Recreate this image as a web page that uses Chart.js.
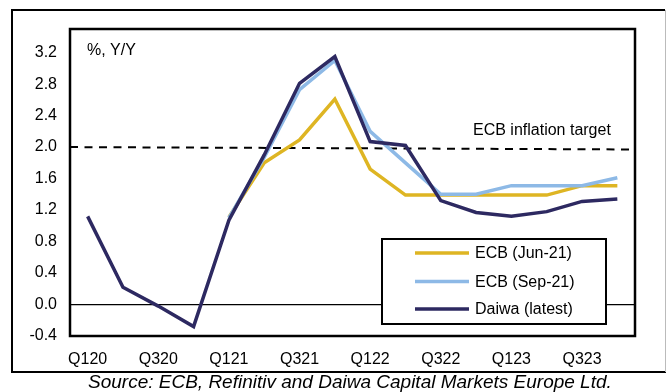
<!DOCTYPE html>
<html>
<head>
<meta charset="utf-8">
<script src="https://cdn.jsdelivr.net/npm/chart.js@4/dist/chart.umd.min.js"></script>
<style>
  html, body { margin: 0; padding: 0; background: #fff; }
  #wrap { width: 666px; height: 392px; position: relative; }
</style>
</head>
<body>
<div id="wrap"><canvas id="cpiChart"></canvas></div>
<script>
// quarters on the x axis
const quarters = ['Q120', 'Q220', 'Q320', 'Q420', 'Q121', 'Q221', 'Q321', 'Q421',
                  'Q122', 'Q222', 'Q322', 'Q422', 'Q123', 'Q223', 'Q323', 'Q423'];

// HICP, % Y/Y
const ecbJun = [null, null, null, null, 1.11, 1.80, 2.09, 2.61, 1.72, 1.39, 1.39, 1.39, 1.39, 1.39, 1.51, 1.51];
const ecbSep = [null, null, null, null, 1.10, 1.87, 2.73, 3.10, 2.20, 1.80, 1.40, 1.40, 1.51, 1.51, 1.51, 1.61];
const daiwa  = [1.12, 0.22, -0.02, -0.28, 1.07, 1.90, 2.81, 3.15, 2.07, 2.02, 1.32, 1.17, 1.12, 1.18, 1.31, 1.34];

// ECB inflation target (dashed line, start / end)
const targetLine = [2.0, 1.97];

const yTicks = [-0.4, 0.0, 0.4, 0.8, 1.2, 1.6, 2.0, 2.4, 2.8, 3.2];
const yMin = -0.4, yMax = 3.5;

const FONT = '"Liberation Sans", Arial, sans-serif';

// frame, target line, labels, legend box
const decorPlugin = {
    id: 'decor',
    beforeDraw(chart) {
        const ctx = chart.ctx;
        ctx.save();
        ctx.fillStyle = '#fff';
        ctx.fillRect(0, 0, chart.width, chart.height);
        // outer frame
        ctx.strokeStyle = '#000';
        ctx.lineWidth = 2;
        ctx.beginPath();
        ctx.moveTo(665, 10); ctx.lineTo(12, 10); ctx.lineTo(12, 372); ctx.lineTo(666, 372);
        ctx.stroke();
        ctx.strokeStyle = '#bbb';
        ctx.lineWidth = 1;
        ctx.beginPath();
        ctx.moveTo(665.5, 10); ctx.lineTo(665.5, 372);
        ctx.stroke();
        // source
        ctx.fillStyle = '#000';
        ctx.font = 'italic 19px ' + FONT;
        ctx.textBaseline = 'middle';
        ctx.textAlign = 'left';
        ctx.fillText('Source: ECB, Refinitiv and Daiwa Capital Markets Europe Ltd.', 88, 383);
        ctx.restore();
    },
    beforeDatasetsDraw(chart) {
        const ctx = chart.ctx;
        const a = chart.chartArea;
        const y = chart.scales.y;
        ctx.save();
        ctx.strokeStyle = '#000';
        ctx.lineWidth = 2;
        ctx.setLineDash([8, 6.5]);
        ctx.beginPath();
        ctx.moveTo(a.left, y.getPixelForValue(targetLine[0]));
        ctx.lineTo(a.right - 6, y.getPixelForValue(targetLine[1]));
        ctx.stroke();
        ctx.setLineDash([]);
        ctx.fillStyle = '#000';
        ctx.font = '16px ' + FONT;
        ctx.textBaseline = 'middle';
        ctx.fillText('ECB inflation target', 473, 131);
        ctx.fillText('%, Y/Y', 87, 51);
        ctx.restore();
    },
    afterDatasetsDraw(chart) {
        const ctx = chart.ctx;
        const a = chart.chartArea;
        ctx.save();
        // plot border
        ctx.strokeStyle = '#000';
        ctx.lineWidth = 2.5;
        ctx.strokeRect(a.left, a.top, a.right - a.left, a.bottom - a.top);
        // legend
        ctx.lineWidth = 2;
        ctx.fillStyle = '#fff';
        ctx.fillRect(382, 239, 224, 85);
        ctx.strokeRect(382, 239, 224, 85);
        ctx.font = '16px ' + FONT;
        ctx.textBaseline = 'middle';
        const rows = [253, 281.5, 309];
        chart.data.datasets.forEach((ds, i) => {
            ctx.strokeStyle = ds.borderColor;
            ctx.lineWidth = 3.5;
            ctx.beginPath();
            ctx.moveTo(415, rows[i]);
            ctx.lineTo(469, rows[i]);
            ctx.stroke();
            ctx.fillStyle = '#000';
            ctx.fillText(ds.label, 475, rows[i] + 1);
        });
        ctx.restore();
    }
};

new Chart(document.getElementById('cpiChart'), {
    type: 'line',
    data: {
        labels: quarters,
        datasets: [
            { label: 'ECB (Jun-21)', data: ecbJun, borderColor: '#DEB523', order: 3 },
            { label: 'ECB (Sep-21)', data: ecbSep, borderColor: '#8DB9E6', order: 2 },
            { label: 'Daiwa (latest)', data: daiwa, borderColor: '#2D2961', order: 1 }
        ].map(ds => Object.assign(ds, {
            borderWidth: 3.5, pointRadius: 0, tension: 0, fill: false,
            spanGaps: false, borderJoinStyle: 'miter'
        }))
    },
    plugins: [decorPlugin],
    options: {
        responsive: true,
        maintainAspectRatio: false,
        animation: false,
        layout: { padding: { left: 0, top: 29, right: 31, bottom: 0 } },
        plugins: { legend: { display: false }, tooltip: { enabled: false } },
        scales: {
            x: {
                offset: true,
                grid: { display: false, drawTicks: false },
                border: { display: false },
                afterFit(scale) { scale.height = 56; },
                ticks: {
                    autoSkip: false,
                    maxRotation: 0,
                    padding: 14,
                    color: '#000',
                    font: { family: FONT, size: 16 },
                    callback(v, i) { return i % 2 === 0 ? quarters[i] : ''; }
                }
            },
            y: {
                min: yMin,
                max: yMax,
                afterFit(scale) { scale.width = 70; },
                afterBuildTicks(scale) { scale.ticks = yTicks.map(v => ({ value: v })); },
                border: { display: false },
                grid: {
                    drawTicks: false,
                    color: c => (c.tick && Math.abs(c.tick.value) < 1e-9 ? '#000' : 'rgba(0,0,0,0)'),
                    lineWidth: 1.3
                },
                ticks: {
                    padding: 13,
                    color: '#000',
                    font: { family: FONT, size: 16 },
                    callback: v => v.toFixed(1)
                }
            }
        }
    }
});
</script>
</body>
</html>
